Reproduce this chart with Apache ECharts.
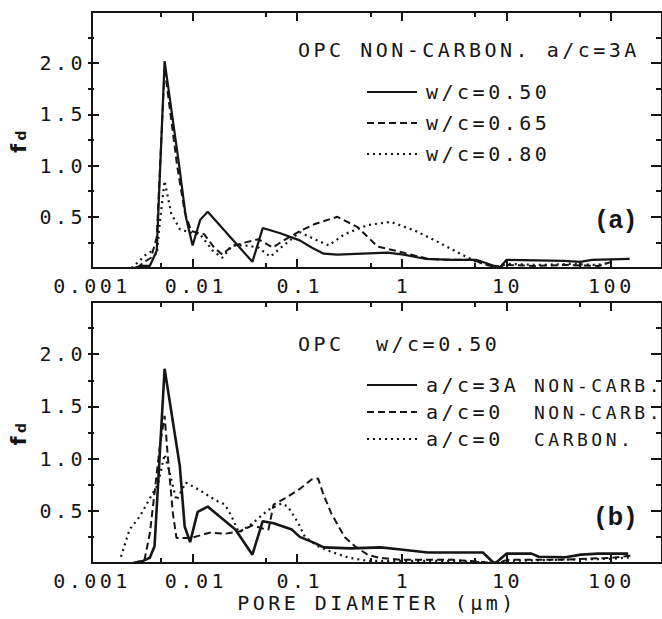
<!DOCTYPE html>
<html><head><meta charset="utf-8">
<script src="https://cdn.jsdelivr.net/npm/echarts@6/dist/echarts.min.js"></script>
<style>
html,body{margin:0;padding:0;background:#fff;}
#chart{width:662px;height:619px;}
#chart text{letter-spacing:3.5px;}
</style></head><body><div id="chart"></div>
<script>
// ---------- data (pore diameter in µm, f_d) ----------
const panelA_wc050 = [[0.0025,0.0],[0.003,0.02],[0.0036,0.02],[0.0042,0.17],[0.005,2.02],[0.0068,1.05],[0.008,0.5],[0.0093,0.22],[0.011,0.47],[0.013,0.55],[0.035,0.06],[0.044,0.39],[0.065,0.34],[0.1,0.27],[0.13,0.2],[0.17,0.14],[0.23,0.13],[0.4,0.14],[0.7,0.15],[1.0,0.13],[1.6,0.09],[3.0,0.08],[5.0,0.08],[7.5,0.02],[8.5,0.01],[9.8,0.08],[35,0.07],[50,0.06],[65,0.08],[150,0.09]];
const panelA_wc065 = [[0.0027,0.0],[0.0032,0.06],[0.0037,0.1],[0.0042,0.3],[0.005,1.95],[0.0066,1.0],[0.0078,0.55],[0.009,0.36],[0.012,0.33],[0.015,0.2],[0.018,0.13],[0.022,0.21],[0.03,0.25],[0.04,0.28],[0.055,0.2],[0.07,0.27],[0.1,0.36],[0.14,0.43],[0.23,0.5],[0.36,0.4],[0.56,0.21],[1.0,0.15],[1.7,0.09],[2.6,0.08],[4.6,0.08],[6.3,0.03],[8.5,0.0],[10,0.03],[18,0.02],[36,0.03],[75,0.02],[100,0.06]];
const panelA_wc080 = [[0.0024,0.0],[0.0028,0.06],[0.0032,0.12],[0.0037,0.16],[0.0042,0.13],[0.0045,0.45],[0.005,0.85],[0.0058,0.53],[0.007,0.38],[0.0085,0.35],[0.011,0.33],[0.0145,0.17],[0.018,0.1],[0.0225,0.22],[0.03,0.22],[0.04,0.2],[0.052,0.11],[0.068,0.21],[0.1,0.35],[0.14,0.28],[0.19,0.22],[0.27,0.33],[0.45,0.42],[0.75,0.45],[1.25,0.37],[2.0,0.27],[3.2,0.16],[5.0,0.06],[7.7,0.01],[10,0.04],[20,0.03],[40,0.04],[70,0.03],[100,0.05]];

const panelB_ac3A_noncarb = [[0.0025,0.0],[0.0031,0.02],[0.0036,0.05],[0.004,0.16],[0.005,1.86],[0.007,0.93],[0.0078,0.35],[0.0088,0.2],[0.0104,0.49],[0.013,0.54],[0.024,0.32],[0.035,0.08],[0.044,0.4],[0.056,0.38],[0.084,0.32],[0.1,0.25],[0.14,0.19],[0.17,0.15],[0.31,0.14],[0.6,0.15],[0.94,0.13],[1.7,0.1],[2.8,0.1],[5.8,0.1],[7.2,0.01],[7.7,0.0],[9.8,0.09],[17,0.09],[20,0.06],[36,0.055],[51,0.08],[75,0.09],[145,0.09]];
const panelB_ac0_noncarb = [[0.0025,0.0],[0.0032,0.03],[0.0036,0.28],[0.004,0.67],[0.0045,1.12],[0.005,1.41],[0.0054,0.99],[0.006,0.48],[0.0065,0.24],[0.009,0.24],[0.0135,0.29],[0.019,0.28],[0.026,0.3],[0.035,0.36],[0.044,0.33],[0.05,0.32],[0.056,0.56],[0.072,0.62],[0.097,0.7],[0.13,0.8],[0.15,0.81],[0.167,0.67],[0.2,0.48],[0.27,0.25],[0.34,0.16],[0.45,0.08],[0.58,0.05],[0.94,0.03],[3,0.03],[7.7,0.0],[10,0.03],[30,0.03],[100,0.05],[155,0.07]];
const panelB_ac0_carb = [[0.0019,0.06],[0.0023,0.32],[0.0029,0.45],[0.0037,0.64],[0.0043,0.75],[0.005,1.04],[0.0056,0.86],[0.0065,0.6],[0.008,0.77],[0.0108,0.7],[0.0155,0.6],[0.019,0.56],[0.022,0.45],[0.026,0.29],[0.035,0.38],[0.05,0.51],[0.067,0.57],[0.077,0.54],[0.097,0.38],[0.112,0.25],[0.15,0.16],[0.21,0.1],[0.3,0.05],[0.45,0.02],[1,0.02],[3,0.02],[7.7,0.0],[10,0.02],[30,0.03],[100,0.04],[155,0.055]];

const legendA = ['w/c=0.50','w/c=0.65','w/c=0.80'];
const legendB = [['a/c=3A','NON-CARB.'],['a/c=0','NON-CARB.'],['a/c=0','CARBON.']];
const majorXTicks = [0.01,0.1,1,10,100];
const minorXTicks = [0.005,0.05,0.5,5,50];
const majorYTicks = [0.5,1.0,1.5,2.0];
const minorYTicks = [0.25,0.75,1.25,1.75,2.25];
const X_MIN = 0.001, X_MAX = 307;
const Y_MIN = 0, Y_MAX = 2.5, Y_STEP = 0.5;

// ---------- styling ----------
const MONO = '"DejaVu Sans Mono", "Liberation Mono", monospace';
const INK = '#151515';
const SP = 3.5;
const rectA = {left: 88, top: 12, width: 575, height: 256};
const rectB = {left: 88, top: 302, width: 575, height: 261};
// grids 0,1: data panels; grids 2,3: minor tick marks; grids 4,5: major tick marks
const grids = [rectA, rectB, {...rectA}, {...rectB}, {...rectA}, {...rectB}];

function mainXAxes(g, withName) {
  const base = {
    type: 'log', logBase: 10, min: X_MIN, max: X_MAX, gridIndex: g,
    splitLine: {show: false}, minorTick: {show: false},
    axisLine: {show: true, onZero: false, lineStyle: {color: INK, width: 2}},
    axisTick: {show: false}
  };
  return [
    Object.assign({}, base, {
      position: 'bottom',
      axisLabel: {show: true, margin: 8, color: INK, fontFamily: MONO, fontSize: 20,
        showMaxLabel: false, formatter: v => String(+(+v).toPrecision(6))},
      name: withName ? 'PORE DIAMETER (μm)' : '',
      nameLocation: 'middle', nameGap: 30,
      nameTextStyle: {color: INK, fontFamily: MONO, fontSize: 20}
    }),
    Object.assign({}, base, {position: 'top', axisLabel: {show: false}})
  ];
}
function tickXAxes(g, values, len) {
  const base = {
    type: 'value', min: Math.log10(X_MIN), max: Math.log10(X_MAX), gridIndex: g,
    axisLine: {show: false, onZero: false}, axisLabel: {show: false}, splitLine: {show: false},
    axisTick: {show: true, inside: true, length: len, lineStyle: {color: INK, width: 2},
      customValues: values.map(v => Math.log10(v))}
  };
  return [Object.assign({}, base, {position: 'bottom'}), Object.assign({}, base, {position: 'top'})];
}
function mainYAxes(g) {
  const common = {
    type: 'value', min: Y_MIN, max: Y_MAX, interval: Y_STEP, gridIndex: g,
    splitLine: {show: false}, minorTick: {show: false},
    axisLine: {show: true, onZero: false, lineStyle: {color: INK, width: 2}},
    axisTick: {show: false}
  };
  return [
    Object.assign({}, common, {
      position: 'left',
      axisLabel: {show: true, margin: 6, color: INK, fontFamily: MONO, fontSize: 20,
        formatter: v => (v > Y_MIN + 1e-9 && v < Y_MAX - 1e-9) ? v.toFixed(1) : ''},
      name: '{f|f}{d|d}', nameLocation: 'middle', nameRotate: 90, nameGap: 58,
      nameTextStyle: {rich: {
        f: {fontSize: 21, fontWeight: 'bold', fontFamily: 'DejaVu Sans', color: INK, padding: [0, SP, 5, 0]},
        d: {fontSize: 14, fontWeight: 'bold', fontFamily: 'DejaVu Sans', color: INK}
      }}
    }),
    Object.assign({}, common, {position: 'right', axisLabel: {show: false}})
  ];
}
function tickYAxes(g, values, len) {
  const base = {
    type: 'value', min: Y_MIN, max: Y_MAX, gridIndex: g,
    splitLine: {show: false}, axisLabel: {show: false},
    axisLine: {show: false, onZero: false},
    axisTick: {show: true, inside: true, length: len, lineStyle: {color: INK, width: 2}, customValues: values}
  };
  return [Object.assign({}, base, {position: 'left'}), Object.assign({}, base, {position: 'right'})];
}

const solid = {type: 'solid', width: 2.2, color: INK};
const dashed = {type: [7, 4], width: 2, color: INK};
const dotted = {type: [2, 4], width: 2.2, color: INK};

function line(name, data, style, xi, yi) {
  return {type: 'line', name, data, xAxisIndex: xi, yAxisIndex: yi,
    showSymbol: false, symbol: 'none', smooth: false, lineStyle: style,
    itemStyle: {color: INK}, emphasis: {disabled: true}, silent: true};
}
const legendBNames = legendB.map(p => p.join(' '));

const legendText = {color: INK, fontFamily: MONO, fontSize: 20};
const titleText = {color: INK, fontFamily: MONO, fontSize: 20, fontWeight: 'normal'};
const TAGFONT = '"Liberation Sans", Arial, sans-serif';
const panelTag = {rich: {
  p: {fontFamily: TAGFONT, fontSize: 25, color: INK, padding: [0, SP, 0, 0]},
  q: {fontFamily: TAGFONT, fontSize: 25, color: INK},
  b: {fontFamily: TAGFONT, fontSize: 25, fontWeight: 'bold', color: INK, padding: [0, SP, 0, 0]}
}};

const option = {
  animation: false,
  backgroundColor: '#fff',
  grid: grids,
  // x: 0,1 panel a | 2,3 panel b | 4-7 minor ticks | 8-11 major ticks
  xAxis: [...mainXAxes(0, false), ...mainXAxes(1, true),
          ...tickXAxes(2, minorXTicks, 5), ...tickXAxes(3, minorXTicks, 5),
          ...tickXAxes(4, majorXTicks, 9), ...tickXAxes(5, majorXTicks, 9)],
  yAxis: [...mainYAxes(0), ...mainYAxes(1),
          ...tickYAxes(2, minorYTicks, 6), ...tickYAxes(3, minorYTicks, 6),
          ...tickYAxes(4, majorYTicks, 11), ...tickYAxes(5, majorYTicks, 11)],
  title: [
    {text: 'OPC NON-CARBON. a/c=3A', left: 293, top: 35, textStyle: titleText},
    {text: 'OPC', left: 293, top: 329, textStyle: titleText},
    {text: 'w/c=0.50', left: 371, top: 329, textStyle: titleText},
    {text: '{p|(}{b|a}{q|)}', left: 592, top: 201, textStyle: panelTag},
    {text: '{p|(}{b|b}{q|)}', left: 591, top: 498, textStyle: panelTag}
  ],
  legend: [
    {data: legendA, left: 361, top: 77, orient: 'vertical', itemWidth: 50, itemHeight: 20,
     itemGap: 11, selectedMode: false, textStyle: Object.assign({padding: [0, 0, 0, 4]}, legendText),
     itemStyle: {color: 'transparent', borderWidth: 0}},
    {data: legendBNames, left: 361, top: 370, orient: 'vertical', itemWidth: 50, itemHeight: 20,
     itemGap: 7, selectedMode: false,
     itemStyle: {color: 'transparent', borderWidth: 0},
     formatter: n => { const i = legendBNames.indexOf(n); return '{a|' + legendB[i][0] + '}{b|' + legendB[i][1] + '}'; },
     textStyle: Object.assign({}, legendText, {padding: [0, 0, 0, 4], rich: {
       a: Object.assign({}, legendText, {width: 108}),
       b: Object.assign({}, legendText, {fontSize: 18})}})}
  ],
  series: [
    line(legendA[0], panelA_wc050, solid, 0, 0),
    line(legendA[1], panelA_wc065, dashed, 0, 0),
    line(legendA[2], panelA_wc080, dotted, 0, 0),
    line(legendBNames[0], panelB_ac3A_noncarb, Object.assign({}, solid, {width: 2.6}), 2, 2),
    line(legendBNames[1], panelB_ac0_noncarb, dashed, 2, 2),
    line(legendBNames[2], panelB_ac0_carb, dotted, 2, 2)
  ]
};

const chart = echarts.init(document.getElementById('chart'), null, {renderer: 'svg', width: 662, height: 619});
chart.setOption(option);
</script></body></html>
